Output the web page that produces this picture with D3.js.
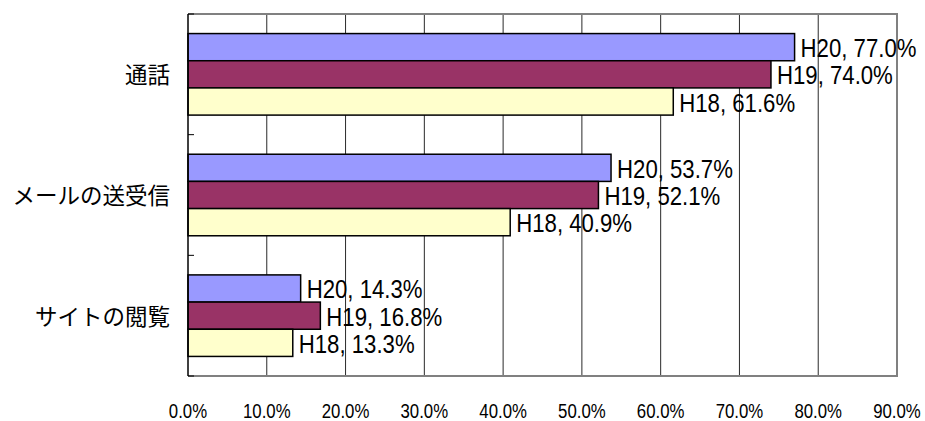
<!DOCTYPE html>
<html><head><meta charset="utf-8">
<script src="https://cdn.jsdelivr.net/npm/d3@7"></script>
<style>body{margin:0;background:#fff}svg{display:block}</style>
</head><body>
<svg id="c" width="925" height="421"></svg>
<script>
const categories = ["通話", "メールの送受信", "サイトの閲覧"];
const seriesNames = ["H20", "H19", "H18"];
const H20 = [77.0, 53.7, 14.3];
const H19 = [74.0, 52.1, 16.8];
const H18 = [61.6, 40.9, 13.3];
const tickValues = [0, 10, 20, 30, 40, 50, 60, 70, 80, 90];
const colors = ["#9999FF", "#993366", "#FFFFCC"];

const seriesValues = [H20, H19, H18];
const svg = d3.select("#c");
const L = 188, R = 897, T = 14, B = 376;
const x = d3.scaleLinear().domain([0, 90]).range([L, R]);
const y = d3.scaleBand().domain(categories).range([T, B]).padding(0);
const ys = d3.scaleBand().domain(seriesNames).range([0, y.bandwidth()]).paddingInner(0).paddingOuter(0.72);

// gridlines
svg.append("g").selectAll("line").data(tickValues.slice(1, -1)).join("line")
  .attr("x1", d => x(d)).attr("x2", d => x(d)).attr("y1", T).attr("y2", B)
  .attr("stroke", "#2a2a2a").attr("stroke-width", 1);
// plot border (top, right, bottom)
svg.append("path")
  .attr("d", `M${L},${T}H${R}V${B}H${L}`)
  .attr("fill", "none").attr("stroke", "#808080").attr("stroke-width", 2);

// bars
const data = [];
categories.forEach((c, i) => seriesNames.forEach((s, j) => data.push({c, s, j, v: seriesValues[j][i]})));
svg.append("g").selectAll("rect").data(data).join("rect")
  .attr("x", x(0)).attr("y", d => y(d.c) + ys(d.s))
  .attr("width", d => x(d.v) - x(0)).attr("height", ys.bandwidth())
  .attr("fill", d => colors[d.j]).attr("stroke", "#000").attr("stroke-width", 1.5);

// left axis
svg.append("line").attr("x1", L).attr("x2", L).attr("y1", T).attr("y2", B).attr("stroke", "#000").attr("stroke-width", 1.5);
const bounds = categories.map(c => y(c)).concat([B]);
svg.append("g").selectAll("line").data(bounds).join("line")
  .attr("x1", L).attr("x2", L + 6).attr("y1", d => d).attr("y2", d => d)
  .attr("stroke", "#000").attr("stroke-width", 1);

// category labels
svg.append("g").selectAll("text").data(categories).join("text")
  .attr("x", 170).attr("y", d => y(d) + y.bandwidth() / 2)
  .attr("dy", "0.4em").attr("text-anchor", "end")
  .attr("font-family", "'Noto Sans CJK JP', sans-serif").attr("font-size", 22.5)
  .attr("fill", "#000").text(d => d);

// x tick labels
svg.append("g").selectAll("text").data(tickValues).join("text")
  .attr("transform", d => `translate(${x(d)},418) scale(0.8,1)`)
  .attr("text-anchor", "middle")
  .attr("font-family", "'Liberation Sans', Arial, sans-serif").attr("font-size", 21)
  .attr("fill", "#000").text(d => d.toFixed(1) + "%");

// data labels
svg.append("g").selectAll("text").data(data).join("text")
  .attr("transform", d => `translate(${x(d.v) + 6},${y(d.c) + ys(d.s) + ys.bandwidth() / 2 + 10}) scale(0.87,1)`)
  .attr("font-family", "'Liberation Sans', Arial, sans-serif").attr("font-size", 25.5)
  .attr("fill", "#000").text(d => `${d.s}, ${d.v.toFixed(1)}%`);
</script>
</body></html>
